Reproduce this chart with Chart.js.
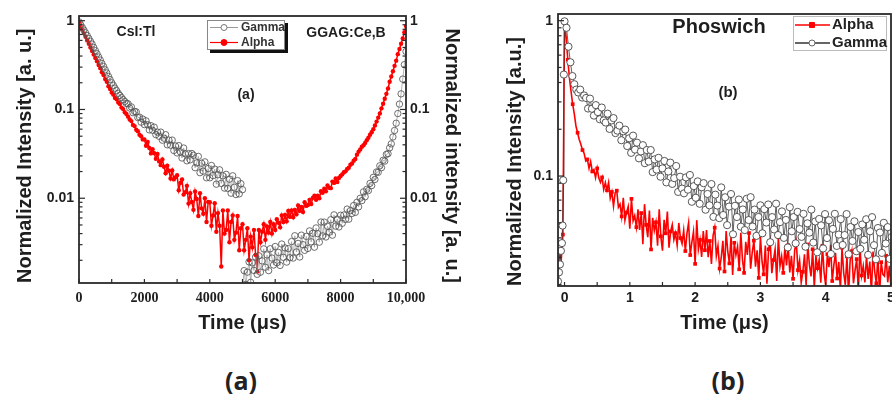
<!DOCTYPE html>
<html><head><meta charset="utf-8">
<script src="https://cdn.jsdelivr.net/npm/chart.js@4/dist/chart.umd.min.js"></script>
<style>
html,body{margin:0;padding:0;background:#fff;width:892px;height:394px;overflow:hidden;position:relative}
#ca{position:absolute;left:0;top:0}
#cb{position:absolute;left:490px;top:0}
.cap{position:absolute;top:363px;font:700 25px "Open Sans",sans-serif;color:#222;transform:translateX(-50%);line-height:34px;white-space:nowrap}
</style></head><body>
<canvas id="ca" width="470" height="335"></canvas>
<canvas id="cb" width="410" height="335"></canvas>
<div class="cap" style="left:241px">(a)</div>
<div class="cap" style="left:728px">(b)</div>
<script>
// ---------------- Panel (a): CsI:Tl / GGAG:Ce,B, time in µs, sampled every 50 µs ----------------
const timeStartA = 0, timeStepA = 50, ggagStartA = 5000;
const alphaA = [
  0.955,0.87,0.795,0.725,0.66,0.60,0.55,0.50,0.455,0.415,
  0.38,0.35,0.316,0.292,0.263,0.245,0.22,0.205,0.183,0.17,
  0.155,0.147,0.135,0.13,0.12,0.115,0.105,0.101,0.093,0.089,
  0.083,0.077,0.074,0.067,0.065,0.059,0.057,0.052,0.05,0.046,
  0.046,0.039,0.043,0.0368,0.032,0.0357,0.0322,0.0278,0.0315,0.026,
  0.0236,0.0274,0.0226,0.0191,0.0232,0.0204,0.0167,0.0206,0.0163,0.0172,
  0.0182,0.0123,0.0149,0.0163,0.011,0.0117,0.0138,0.0087,0.0114,0.0091,
  0.0074,0.0119,0.0098,0.0063,0.0114,0.0077,0.0067,0.01,0.0054,0.0091,
  0.009,0.0049,0.0064,0.0088,0.0042,0.0068,0.0049,0.0017,0.0073,0.004,
  0.0044,0.0073,0.0032,0.0054,0.0064,0.0034,0.0041,0.0063,0.0026,0.0046,
  0.0051,0.0026,0.0034,0.0046,0.002,0.0037,0.0028,0.0044,0.0023,0.0015,
  0.0044,0.0032,0.0042,0.0051,0.0034,0.0048,0.0041,0.0054,0.004,0.0051,
  0.0044,0.0058,0.0053,0.0047,0.0064,0.0054,0.0065,0.0055,0.0072,0.0062,
  0.0073,0.0061,0.0074,0.0066,0.0083,0.0072,0.008,0.007,0.009,0.0082,
  0.0084,0.0096,0.0086,0.0101,0.0107,0.0096,0.0107,0.01,0.012,0.0115,
  0.0128,0.012,0.0139,0.0131,0.013,0.0154,0.0149,0.0167,0.0152,0.0169,
  0.0178,0.0186,0.0196,0.0201,0.0214,0.0221,0.0238,0.0246,0.0265,0.0277,
  0.031,0.0335,0.0355,0.038,0.0395,0.042,0.045,0.048,0.052,0.0555,
  0.06,0.066,0.073,0.081,0.09,0.103,0.116,0.132,0.15,0.172,
  0.205,0.235,0.27,0.31,0.355,0.42,0.48,0.55,0.63,0.74,
  0.87
];
const gammaCsI = [
  0.97,0.9,0.84,0.785,0.73,0.68,0.63,0.585,0.545,0.5,
  0.46,0.425,0.39,0.36,0.33,0.305,0.28,0.258,0.236,0.217,
  0.2,0.187,0.174,0.163,0.152,0.144,0.136,0.129,0.123,0.117,
  0.116,0.104,0.107,0.092,0.095,0.094,0.081,0.082,0.072,0.078,
  0.0675,0.0745,0.0673,0.0589,0.0657,0.0582,0.0632,0.0521,0.0556,0.0499,
  0.0556,0.0451,0.0475,0.052,0.04,0.0452,0.0396,0.0452,0.0345,0.0388,
  0.0324,0.0392,0.0333,0.0284,0.0368,0.0316,0.0264,0.0319,0.0271,0.0319,
  0.0305,0.0221,0.025,0.0296,0.0194,0.0248,0.0202,0.0257,0.017,0.0216,
  0.017,0.0234,0.018,0.0213,0.0144,0.0184,0.0209,0.0147,0.0179,0.013,
  0.0186,0.0129,0.0164,0.0114,0.0179,0.0133,0.011,0.0158,0.0112,0.0146,
  0.0125
];
const gammaGGAG = [
  0.00099,0.00153,0.00107,0.00147,0.00192,0.00113,0.00187,0.00154,0.00218,0.00139,
  0.00225,0.00147,0.00197,0.00269,0.00167,0.0023,0.00153,0.0027,0.00212,0.00177,
  0.00286,0.00188,0.00245,0.00175,0.00305,0.00216,0.00276,0.00191,0.00271,0.00214,
  0.00325,0.00212,0.00378,0.00248,0.0031,0.00218,0.00384,0.003,0.00259,0.00372,
  0.00272,0.00429,0.00323,0.00403,0.00281,0.00463,0.00399,0.0032,0.0054,0.00377,
  0.00538,0.00366,0.00484,0.00414,0.00573,0.00384,0.0065,0.00485,0.00582,0.00475,
  0.00644,0.00522,0.00648,0.00577,0.00755,0.00581,0.00725,0.00675,0.00829,0.00693,
  0.009,0.008,0.01,0.0094,0.0118,0.0104,0.0126,0.0122,0.0147,0.0139,
  0.0172,0.0163,0.0198,0.0196,0.0232,0.0221,0.0268,0.0262,0.0312,0.0318,
  0.037,0.041,0.049,0.058,0.07,0.09,0.115,0.15,0.22,0.32,
  0.45
];
const xTicksA = [0,1000,2000,3000,4000,5000,6000,7000,8000,9000,10000];
const xLabelValsA = [0,2000,4000,6000,8000,10000];
const xLabelsA = ['0','2000','4000','6000','8000','10,000'];
const yMinA = 0.00111, yMaxA = 1.13;
const yLabelValsA = [0.01,0.1,1];
const yLabelsA = ['0.01','0.1','1'];

// ---------------- Panel (b): Phoswich, time in µs ----------------
const alphaStartB = -0.1, alphaStepB = 0.025;
const alphaB = [
  0.026,0.031,0.029,0.042,0.95,0.78,0.56,0.43,0.35,0.29,
  0.25,0.21,0.19,0.172,0.16,0.147,0.14,0.125,0.128,0.112,
  0.124,0.107,0.11,0.0975,0.112,0.097,0.091,0.098,0.082,0.0906,
  0.081,0.091,0.072,0.079,0.064,0.078,0.0805,0.063,0.066,0.055,
  0.0725,0.0519,0.0582,0.0637,0.0458,0.0713,0.0515,0.0556,0.0469,0.061,
  0.045,0.0578,0.0364,0.0659,0.0485,0.0404,0.06,0.0337,0.0539,0.0446,
  0.0504,0.0356,0.0611,0.0409,0.0331,0.0523,0.0428,0.059,0.0346,0.044,
  0.0487,0.0389,0.0429,0.0358,0.0499,0.0399,0.0367,0.0447,0.0329,0.0428,
  0.05,0.031,0.0374,0.0438,0.0272,0.052,0.0337,0.0388,0.0302,0.0443,
  0.0333,0.0449,0.03,0.0382,0.0272,0.0414,0.0465,0.0306,0.0355,0.0254,
  0.0298,0.0383,0.0243,0.0442,0.0327,0.0274,0.0409,0.0231,0.0372,0.031,
  0.0352,0.0251,0.0432,0.0291,0.0238,0.0377,0.0311,0.043,0.0253,0.0323,
  0.0384,0.0261,0.0333,0.0221,0.0408,0.0282,0.0233,0.0357,0.0203,0.0338,
  0.0381,0.0237,0.0288,0.0338,0.0211,0.0405,0.0263,0.0304,0.0238,0.0349,
  0.0266,0.0359,0.024,0.0307,0.0218,0.0334,0.0376,0.0248,0.0287,0.0206,
  0.0242,0.0313,0.0199,0.0363,0.0269,0.0226,0.0338,0.0191,0.0305,0.0255,
  0.0289,0.0206,0.0356,0.0241,0.0197,0.0314,0.0259,0.0359,0.0211,0.0268,
  0.032,0.0219,0.028,0.0186,0.0346,0.0239,0.0199,0.0304,0.0174,0.029,
  0.0328,0.0204,0.0248,0.0292,0.0183,0.0351,0.0229,0.0264,0.0207,0.0305,
  0.0218,0.0282,0.0179,0.0327,0.0243,0.0204,0.0305,0.0173,0.0279,0.0233,
  0.0227,0.0307,0.0207,0.0264,0.0189
];
const gammaRiseTimesB = [-0.1,-0.085,-0.07,-0.055,-0.04,-0.03,-0.02,-0.01,0.0];
const gammaRiseB = [0.021,0.024,0.027,0.033,0.037,0.048,0.094,0.45,0.99];
const gammaStartB = 0.03, gammaStepB = 0.03;
const gammaB = [
  0.9,0.68,0.54,0.44,0.39,0.36,0.345,0.36,0.32,0.33,
  0.318,0.272,0.315,0.271,0.245,0.286,0.258,0.232,0.276,0.228,
  0.221,0.252,0.201,0.228,0.236,0.189,0.196,0.211,0.17,0.194,
  0.199,0.156,0.175,0.141,0.182,0.148,0.164,0.13,0.144,0.158,
  0.121,0.147,0.124,0.147,0.106,0.128,0.11,0.131,0.099,0.112,
  0.125,0.091,0.107,0.122,0.089,0.097,0.116,0.079,0.099,0.083,
  0.0774,0.098,0.0817,0.1016,0.0683,0.0861,0.0725,0.0924,0.0663,0.0847,
  0.09,0.0607,0.0767,0.0648,0.0888,0.0546,0.0759,0.0646,0.0536,0.0845,
  0.0561,0.073,0.0483,0.0636,0.0766,0.0422,0.0643,0.0545,0.0706,0.0472,
  0.0609,0.0449,0.0714,0.0521,0.0731,0.0473,0.0608,0.0412,0.0545,0.0648,
  0.0428,0.0612,0.0502,0.0656,0.0375,0.0544,0.0453,0.0664,0.0417,0.0505,
  0.0592,0.04,0.0522,0.0347,0.063,0.0441,0.0545,0.0369,0.0588,0.0456,
  0.0406,0.0571,0.0351,0.0496,0.0432,0.0608,0.0373,0.051,0.0323,0.0529,
  0.0481,0.0342,0.0569,0.0399,0.0519,0.0315,0.0457,0.0571,0.0355,0.042,
  0.0528,0.036,0.0417,0.0569,0.0314,0.047,0.0382,0.0511,0.0328,0.0436,
  0.034,0.0488,0.0389,0.0527,0.0311,0.0441,0.0544,0.0359,0.0291,0.0463,
  0.0433,0.032,0.05,0.0368,0.0469,0.0293,0.0405
];
const xTicksB = [0,0.5,1,1.5,2,2.5,3,3.5,4,4.5,5];
const xLabelValsB = [0,1,2,3,4,5];
const xLabelsB = ['0','1','2','3','4','5'];
const xMinB = -0.1, xMaxB = 5.0;
const yMinB = 0.0196, yMaxB = 1.104;
const yLabelValsB = [0.1,1];
const yLabelsB = ['0.1','1'];

// ---------------- helpers ----------------
const SANS = '"Liberation Sans", Arial, sans-serif';
const SERIF = '"Liberation Serif", "Times New Roman", serif';
const toPts = (ts, vs) => vs.map((v, i) => ({x: ts[i], y: v}));
const grid = (start, step, n) => Array.from({length: n}, (_, i) => +(start + i * step).toFixed(4));
const logTicks = (min, max) => {
  const out = [];
  for (let e = -4; e <= 1; e++) for (let m = 1; m <= 9; m++) {
    const v = +(m * Math.pow(10, e)).toPrecision(6);
    if (v >= min && v <= max) out.push(v);
  }
  return out;
};
const labelFor = (vals, labels) => (v) => {
  const i = vals.findIndex(m => Math.abs(m - v) <= Math.abs(m) * 1e-6 + 1e-12);
  return i >= 0 ? labels[i] : '';
};

const frameTicks = {
  id: 'frameTicks',
  afterDatasetsDraw(chart, args, o) {
    const {ctx, chartArea: a} = chart;
    ctx.save();
    ctx.strokeStyle = o.color;
    ctx.lineWidth = o.tickWidth;
    Object.values(chart.scales).forEach(s => {
      s.ticks.forEach(t => {
        const major = !!t.label;
        const p = s.getPixelForValue(t.value);
        ctx.beginPath();
        if (s.isHorizontal()) {
          ctx.moveTo(p, a.bottom); ctx.lineTo(p, a.bottom - o.xLen);
        } else {
          const len = major ? o.majorLen : o.minorLen;
          const left = s.position === 'left';
          const edge = left ? a.left : a.right;
          ctx.moveTo(edge, p); ctx.lineTo(edge + (left ? len : -len), p);
        }
        ctx.stroke();
      });
    });
    ctx.lineWidth = o.borderWidth;
    ctx.strokeRect(a.left, a.top, a.right - a.left, a.bottom - a.top);
    ctx.restore();
  }
};
const textNotes = {
  id: 'textNotes',
  afterDraw(chart, args, o) {
    const {ctx, chartArea: a} = chart;
    ctx.save();
    o.items.forEach(n => {
      ctx.font = n.font; ctx.fillStyle = n.color; ctx.textAlign = 'center'; ctx.textBaseline = 'middle';
      ctx.fillText(n.text, a.left + n.dx, a.top + n.dy);
    });
    ctx.restore();
  }
};
const boxLegend = {
  id: 'boxLegend',
  afterDraw(chart, args, o) {
    const {ctx, chartArea: a} = chart;
    const x = a.left + o.dx, y = a.top + o.dy;
    ctx.save();
    if (o.shadow) { ctx.fillStyle = '#111'; ctx.fillRect(x + o.shadow, y + o.shadow, o.w, o.h); }
    ctx.fillStyle = '#fff'; ctx.fillRect(x, y, o.w, o.h);
    ctx.strokeStyle = o.borderColor; ctx.lineWidth = 1; ctx.strokeRect(x + 0.5, y + 0.5, o.w - 1, o.h - 1);
    o.rows.forEach(r => {
      const ds = chart.data.datasets[r.dataset];
      const cy = y + r.dy;
      ctx.strokeStyle = r.line; ctx.lineWidth = r.lineWidth;
      ctx.beginPath(); ctx.moveTo(x + o.lineX0, cy); ctx.lineTo(x + o.lineX1, cy); ctx.stroke();
      ctx.fillStyle = r.fill; ctx.strokeStyle = r.stroke; ctx.lineWidth = 1;
      Chart.helpers.drawPoint(ctx, {pointStyle: r.style, radius: r.radius, borderWidth: 1, rotation: 0}, x + o.markerX, cy);
      ctx.fillStyle = o.textColor; ctx.font = o.font; ctx.textAlign = 'left'; ctx.textBaseline = 'middle';
      ctx.fillText(ds.label, x + o.textX, cy);
    });
    ctx.restore();
  }
};

const tickFont = {family: SANS, size: 14, weight: 'bold'};
const titleFont = {family: SANS, size: 20, weight: 'bold'};
const INK = '#1e1e1e';

// ---------------- Chart (a) ----------------
new Chart(document.getElementById('ca'), {
  type: 'line',
  data: {datasets: [
    {label: 'Gamma', data: toPts(grid(timeStartA, timeStepA, gammaCsI.length), gammaCsI),
     borderColor: '#a0a0a0', borderWidth: 0.8, pointRadius: 3.2, pointStyle: 'circle',
     pointBorderColor: 'rgba(85,85,85,0.85)', pointBorderWidth: 1, pointBackgroundColor: 'rgba(255,255,255,0)', order: 0},
    {label: 'Alpha', data: toPts(grid(timeStartA, timeStepA, alphaA.length), alphaA),
     borderColor: '#ff0000', borderWidth: 1.5, pointRadius: 2.2, pointStyle: 'circle',
     pointBackgroundColor: '#ff0000', pointBorderWidth: 0, order: 1},
    {label: 'Gamma', data: toPts(grid(ggagStartA, timeStepA, gammaGGAG.length), gammaGGAG),
     borderColor: '#a0a0a0', borderWidth: 0.8, pointRadius: 3.2, pointStyle: 'circle',
     pointBorderColor: 'rgba(85,85,85,0.85)', pointBorderWidth: 1, pointBackgroundColor: 'rgba(255,255,255,0)', order: 0}
  ]},
  plugins: [frameTicks, textNotes, boxLegend],
  options: {
    responsive: false, animation: false,
    layout: {padding: {top: 16, left: 0, right: 0, bottom: 0}},
    plugins: {
      legend: {display: false}, tooltip: {enabled: false},
      frameTicks: {color: '#2a2a2a', tickWidth: 1.2, borderWidth: 1.8, xLen: 4, majorLen: 6, minorLen: 3.5},
      textNotes: {items: [
        {text: 'CsI:Tl', dx: 57, dy: 16, font: 'bold 14px ' + SANS, color: INK},
        {text: 'GGAG:Ce,B', dx: 267, dy: 17, font: 'bold 14px ' + SANS, color: INK},
        {text: '(a)', dx: 167, dy: 79, font: 'bold 14px ' + SANS, color: INK}
      ]},
      boxLegend: {dx: 128, dy: 4, w: 78, h: 30, shadow: 3, borderColor: '#888',
        lineX0: 3, lineX1: 31, markerX: 17, textX: 34, font: 'bold 12px ' + SANS, textColor: '#333',
        rows: [
          {dataset: 0, dy: 7.5, line: '#999', lineWidth: 1, fill: '#fff', stroke: '#777', style: 'circle', radius: 3},
          {dataset: 1, dy: 22.5, line: '#ff0000', lineWidth: 1.2, fill: '#ff0000', stroke: '#ff0000', style: 'circle', radius: 3}
        ]}
    },
    scales: {
      x: {type: 'linear', position: 'bottom', min: 0, max: 10000,
        afterBuildTicks: s => { s.ticks = xTicksA.map(v => ({value: v})); },
        afterFit: s => { s.height = 52; },
        ticks: {autoSkip: false, maxRotation: 0, padding: 7, color: INK,
          font: {family: SERIF, size: 14, weight: 'bold'}, callback: labelFor(xLabelValsA, xLabelsA)},
        grid: {display: false, drawTicks: false}, border: {display: false},
        title: {display: true, text: 'Time (μs)', font: titleFont, color: INK, padding: 0}},
      y: {type: 'logarithmic', position: 'left', min: yMinA, max: yMaxA,
        afterBuildTicks: s => { s.ticks = logTicks(yMinA, yMaxA).map(v => ({value: v})); },
        afterFit: s => { s.width = 79; },
        ticks: {autoSkip: false, padding: 5, color: INK, font: tickFont, callback: labelFor(yLabelValsA, yLabelsA)},
        grid: {display: false, drawTicks: false}, border: {display: false},
        title: {display: true, text: 'Normalized Intensity [a. u.]', align: 'start', font: titleFont, color: INK, padding: 13}},
      y2: {type: 'logarithmic', position: 'right', min: yMinA, max: yMaxA,
        afterBuildTicks: s => { s.ticks = logTicks(yMinA, yMaxA).map(v => ({value: v})); },
        afterFit: s => { s.width = 64; },
        ticks: {autoSkip: false, padding: 4, color: INK, font: tickFont, callback: labelFor(yLabelValsA, yLabelsA)},
        grid: {display: false, drawTicks: false}, border: {display: false},
        title: {display: true, text: 'Normalized intensity [a. u.]', align: 'start', font: titleFont, color: INK, padding: 6}}
    }
  }
});

// ---------------- Chart (b) ----------------
new Chart(document.getElementById('cb'), {
  type: 'line',
  data: {datasets: [
    {label: 'Alpha', data: toPts(grid(alphaStartB, alphaStepB, alphaB.length), alphaB),
     borderColor: '#ff0000', borderWidth: 1.6, pointStyle: 'rect',
     pointRadius: c => (c.index % 3 === 0 ? 2.6 : 0), pointBackgroundColor: '#ff0000', pointBorderWidth: 0, order: 1},
    {label: 'Gamma', data: toPts(gammaRiseTimesB, gammaRiseB).concat(toPts(grid(gammaStartB, gammaStepB, gammaB.length), gammaB)),
     borderColor: '#3a3a3a', borderWidth: 0.8, pointStyle: 'circle', pointRadius: 3.6,
     pointBorderColor: 'rgba(70,70,70,0.9)', pointBorderWidth: 1, pointBackgroundColor: '#fff', order: 0}
  ]},
  plugins: [frameTicks, textNotes, boxLegend],
  options: {
    responsive: false, animation: false,
    layout: {padding: {top: 14, left: 0, right: 9, bottom: 0}},
    plugins: {
      legend: {display: false}, tooltip: {enabled: false},
      frameTicks: {color: '#2a2a2a', tickWidth: 1.2, borderWidth: 1.8, xLen: 4, majorLen: 6, minorLen: 3.5},
      textNotes: {items: [
        {text: 'Phoswich', dx: 161, dy: 13, font: 'bold 20px ' + SANS, color: INK},
        {text: '(b)', dx: 170, dy: 79, font: 'bold 15px ' + SANS, color: INK}
      ]},
      boxLegend: {dx: 235, dy: 2, w: 94, h: 35, shadow: 0, borderColor: '#bbb',
        lineX0: 2, lineX1: 37, markerX: 19, textX: 39, font: 'bold 15px ' + SANS, textColor: '#222',
        rows: [
          {dataset: 0, dy: 9, line: '#ff0000', lineWidth: 1.4, fill: '#ff0000', stroke: '#ff0000', style: 'rect', radius: 3.5},
          {dataset: 1, dy: 27, line: '#333', lineWidth: 1.4, fill: '#fff', stroke: '#666', style: 'circle', radius: 3}
        ]}
    },
    scales: {
      x: {type: 'linear', position: 'bottom', min: xMinB, max: xMaxB,
        afterBuildTicks: s => { s.ticks = xTicksB.map(v => ({value: v})); },
        afterFit: s => { s.height = 49; },
        ticks: {autoSkip: false, maxRotation: 0, padding: 4, color: INK, font: tickFont, callback: labelFor(xLabelValsB, xLabelsB)},
        grid: {display: false, drawTicks: false}, border: {display: false},
        title: {display: true, text: 'Time (μs)', font: titleFont, color: INK, padding: 0}},
      y: {type: 'logarithmic', position: 'left', min: yMinB, max: yMaxB,
        afterBuildTicks: s => { s.ticks = logTicks(yMinB, yMaxB).map(v => ({value: v})); },
        afterFit: s => { s.width = 68; },
        ticks: {autoSkip: false, padding: 5, color: INK, font: tickFont, callback: labelFor(yLabelValsB, yLabelsB)},
        grid: {display: false, drawTicks: false}, border: {display: false},
        title: {display: true, text: 'Normalized Intensity [a.u.]', align: 'start', font: titleFont, color: INK, padding: 13}}
    }
  }
});
</script>
</body></html>
